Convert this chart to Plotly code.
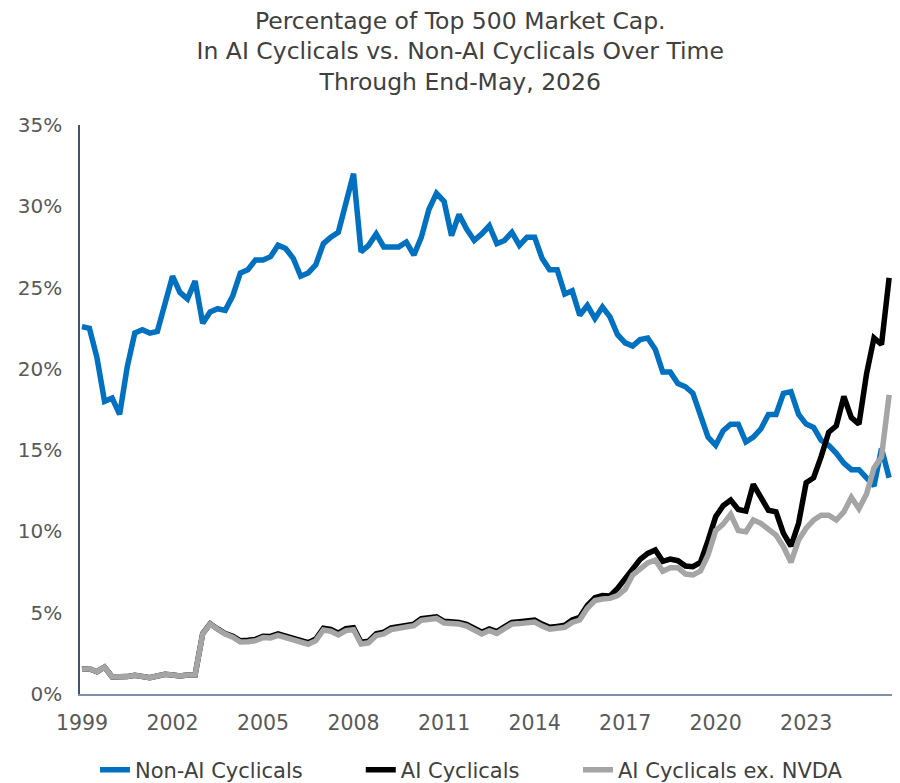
import plotly.graph_objects as go
import pandas as pd

# Quarterly samples (percent of top-500 market cap)
non_ai_cyclicals = [
    22.6, 22.5, 20.7, 18.0, 18.2, 17.2, 20.1, 22.2, 22.4, 22.2,
    22.3, 23.9, 25.7, 24.7, 24.3, 25.4, 22.8, 23.5, 23.7, 23.6,
    24.5, 25.9, 26.1, 26.7, 26.7, 26.9, 27.6, 27.4, 26.8, 25.7,
    25.9, 26.4, 27.7, 28.1, 28.4, 30.2, 32.0, 27.2, 27.6, 28.3,
    27.5, 27.5, 27.5, 27.8, 27.0, 28.1, 29.8, 30.8, 30.3, 28.2,
    29.5, 28.6, 27.9, 28.3, 28.8, 27.7, 27.9, 28.4, 27.6, 28.1,
    28.1, 26.8, 26.1, 26.1, 24.6, 24.8, 23.3, 23.9, 23.1, 23.8,
    23.2, 22.1, 21.6, 21.4, 21.8, 21.9, 21.2, 19.8, 19.8, 19.1,
    18.9, 18.5, 17.2, 15.8, 15.3, 16.2, 16.6, 16.6, 15.5, 15.8,
    16.3, 17.2, 17.2, 18.5, 18.6, 17.2, 16.6, 16.4, 15.6, 15.3,
    14.8, 14.2, 13.8, 13.8, 13.3, 12.8, 15.1, 13.3,
]

ai_cyclicals = [
    1.52, 1.55, 1.37, 1.65, 1.05, 1.02, 1.07, 1.15, 1.07, 1.00,
    1.11, 1.21, 1.17, 1.11, 1.17, 1.17, 3.72, 4.32, 4.00, 3.72,
    3.55, 3.27, 3.30, 3.36, 3.55, 3.54, 3.70, 3.58, 3.42, 3.28,
    3.16, 3.38, 4.05, 3.97, 3.74, 4.02, 4.08, 3.18, 3.25, 3.70,
    3.80, 4.06, 4.14, 4.30, 4.30, 4.63, 4.73, 4.75, 4.47, 4.45,
    4.40, 4.28, 4.06, 3.80, 4.00, 3.84, 4.13, 4.41, 4.45, 4.47,
    4.55, 4.30, 4.10, 4.16, 4.23, 4.55, 4.72, 5.45, 5.92, 6.05,
    6.03, 6.50, 7.11, 7.77, 8.28, 8.65, 8.86, 8.16, 8.30, 8.20,
    7.87, 7.83, 8.10, 9.43, 10.9, 11.58, 11.93, 11.35, 11.25, 12.9,
    12.1, 11.3, 11.2, 9.88, 9.10, 10.5, 13.0, 13.3, 14.6, 16.1,
    16.5, 18.3, 17.0, 16.6, 19.7, 21.9, 21.5, 25.6,
]

ai_cyclicals_ex_nvda = [
    1.52, 1.55, 1.37, 1.65, 1.05, 1.02, 1.07, 1.15, 1.07, 1.00,
    1.11, 1.21, 1.17, 1.11, 1.17, 1.17, 3.70, 4.30, 3.98, 3.68,
    3.49, 3.20, 3.22, 3.28, 3.47, 3.45, 3.61, 3.49, 3.32, 3.18,
    3.06, 3.28, 3.94, 3.86, 3.63, 3.90, 3.96, 3.08, 3.15, 3.60,
    3.70, 3.96, 4.04, 4.20, 4.20, 4.53, 4.63, 4.65, 4.37, 4.35,
    4.30, 4.18, 3.96, 3.69, 3.90, 3.73, 4.02, 4.30, 4.33, 4.35,
    4.43, 4.18, 3.98, 4.04, 4.10, 4.40, 4.55, 5.27, 5.75, 5.84,
    5.88, 6.05, 6.45, 7.32, 7.73, 8.06, 8.24, 7.55, 7.77, 7.77,
    7.38, 7.32, 7.56, 8.55, 10.05, 10.45, 11.05, 10.05, 9.98, 10.7,
    10.5, 10.1, 9.78, 9.06, 8.10, 9.47, 10.2, 10.7, 11.0, 11.0,
    10.7, 11.2, 12.1, 11.4, 12.3, 13.9, 14.6, 18.4,
]

tick_years = ["1999", "2002", "2005", "2008", "2011", "2014", "2017", "2020", "2023"]
y_ticks = [0, 5, 10, 15, 20, 25, 30, 35]

dates = pd.date_range("1999-01-01", periods=len(non_ai_cyclicals), freq="QS")

fig = go.Figure()
fig.add_trace(go.Scatter(x=dates, y=non_ai_cyclicals, mode="lines",
                         name="Non-AI Cyclicals", legend="legend",
                         line=dict(color="#0070C0", width=5.5)))
fig.add_trace(go.Scatter(x=dates, y=ai_cyclicals, mode="lines",
                         name="AI Cyclicals", legend="legend2",
                         line=dict(color="#000000", width=5.5)))
fig.add_trace(go.Scatter(x=dates, y=ai_cyclicals_ex_nvda, mode="lines",
                         name="AI Cyclicals ex. NVDA", legend="legend3",
                         line=dict(color="#A5A5A5", width=5.5)))

font_family = "DejaVu Sans, Verdana, sans-serif"
legend_font = dict(size=21, color="#404040", family=font_family)


def legend_at(x):
    return dict(
        orientation="h",
        xref="container", yref="container",
        x=x, xanchor="left",
        y=0.0168, yanchor="middle",
        font=legend_font,
        bgcolor="rgba(0,0,0,0)",
    )


# The page body adds an 8px margin, so the figure is sized 8px smaller.
fig.update_layout(
    width=892, height=775,
    margin=dict(l=72, r=7, t=117, b=89, autoexpand=False),
    paper_bgcolor="white", plot_bgcolor="white",
    font=dict(family=font_family, color="#595959", size=20),
    title=dict(
        text="Percentage of Top 500 Market Cap.<br>In AI Cyclicals vs. Non-AI Cyclicals Over Time<br>Through End-May, 2026",
        x=0.507, xref="container", xanchor="center",
        y=0.9730, yref="container", yanchor="top",
        font=dict(size=23.5, color="#404040", family=font_family),
    ),
    showlegend=True,
    legend=legend_at(0.0975),
    legend2=legend_at(0.3955),
    legend3=legend_at(0.639),
    xaxis=dict(
        type="date",
        range=["1998-12-08", "2025-11-17"],
        tickvals=[f"{y}-01-01" for y in tick_years],
        ticktext=tick_years,
        showgrid=False, zeroline=False,
        showline=True, linecolor="#8090A8", linewidth=1.5,
        ticks="outside", ticklen=10, tickcolor="rgba(0,0,0,0)",
        tickfont=dict(size=20.5, color="#595959"),
    ),
    yaxis=dict(
        range=[0, 35],
        tickvals=y_ticks,
        ticktext=[f"{v}%" for v in y_ticks],
        showgrid=False, zeroline=False,
        showline=True, linecolor="#44546A", linewidth=1.5,
        ticks="outside", ticklen=12, tickcolor="rgba(0,0,0,0)",
        tickfont=dict(size=20, color="#595959"),
    ),
)

fig.write_html("out.html")
